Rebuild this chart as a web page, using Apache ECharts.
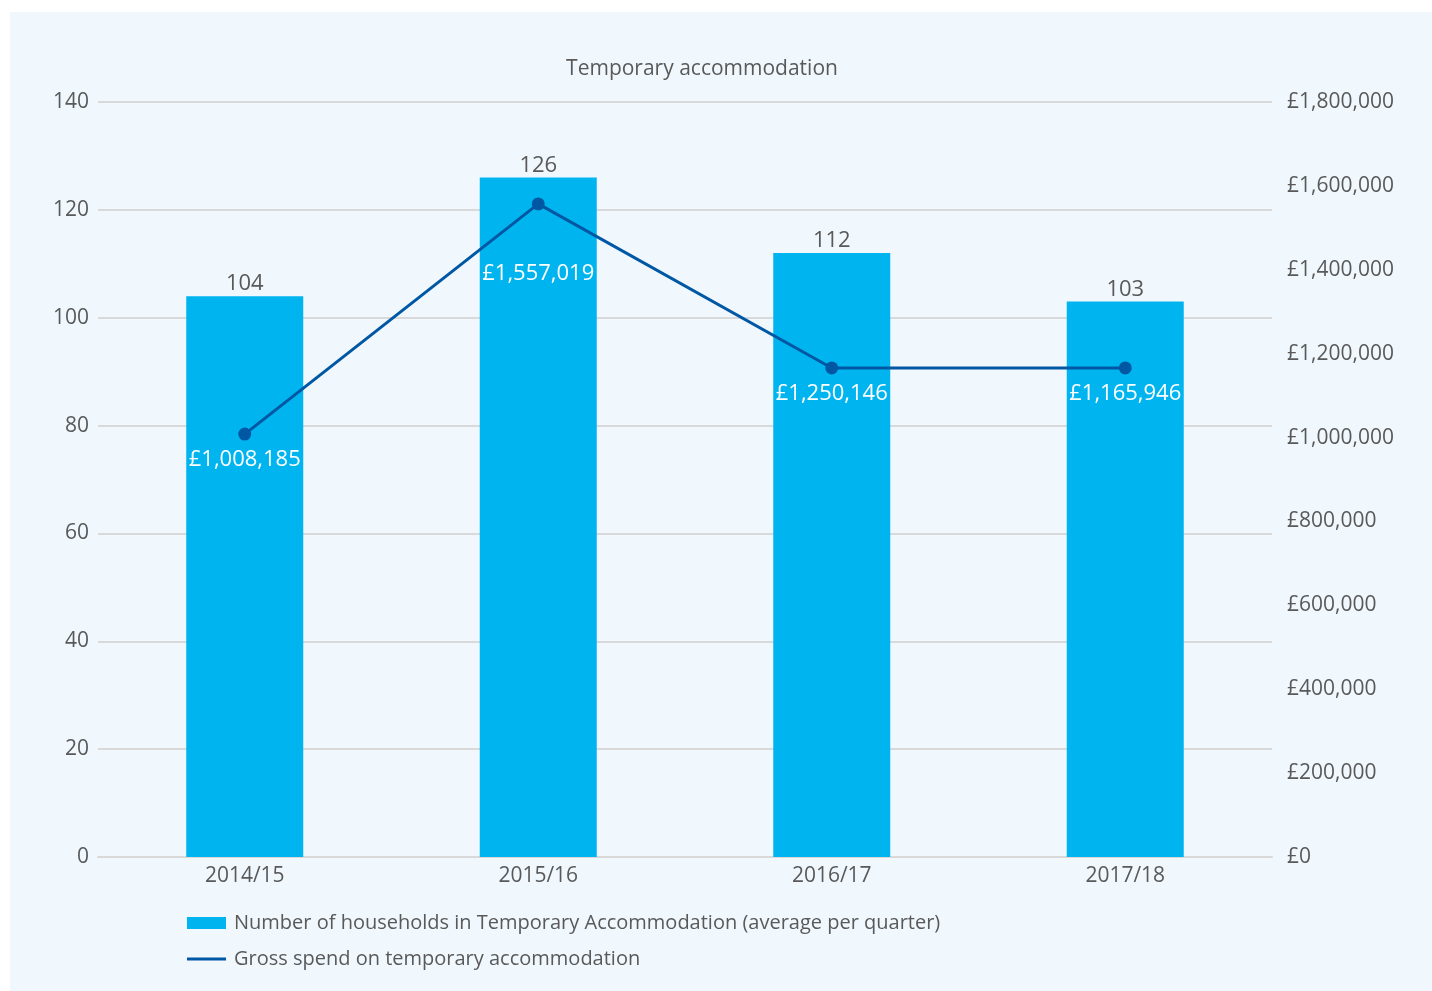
<!DOCTYPE html>
<html>
<head>
<meta charset="utf-8">
<script src="https://cdn.jsdelivr.net/npm/echarts@6/dist/echarts.min.js"></script>
<style>
  html, body { margin: 0; padding: 0; background: #ffffff; }
  #c { position: absolute; left: 10px; top: 12px; width: 1422px; height: 979px; background: #f0f8fe; }
</style>
</head>
<body>
<div id="c"></div>
<script>
const categories = ['2014/15', '2015/16', '2016/17', '2017/18'];
const households = [104, 126, 112, 103];
// plotted positions of the line
const spendPlotted = [1008185, 1557019, 1165946, 1165946];
const spendLabels = ['£1,008,185', '£1,557,019', '£1,250,146', '£1,165,946'];
const leftTicks = [0, 20, 40, 60, 80, 100, 120, 140];
const rightTicks = [0, 200000, 400000, 600000, 800000, 1000000, 1200000, 1400000, 1600000, 1800000];

const FONT = 'Open Sans';
const TXT = '#595959';

const lineData = spendPlotted.map((v, i) => i === 1 ? { value: v, label: { distance: 52 } } : v);

const chart = echarts.init(document.getElementById('c'), null, { renderer: 'canvas' });
chart.setOption({
  backgroundColor: 'transparent',
  textStyle: { fontFamily: FONT },
  title: {
    text: 'Temporary accommodation',
    left: 687, top: 42, textAlign: 'center',
    textStyle: { fontFamily: FONT, fontSize: 21, fontWeight: 'normal', color: TXT }
  },
  grid: { left: 88, right: 160, top: 90, bottom: 134, containLabel: false },
  legend: {
    orient: 'vertical', left: 172, top: 896, itemGap: 16,
    itemWidth: 39, itemHeight: 12,
    textStyle: { fontFamily: FONT, fontSize: 20, color: TXT, padding: [0, 0, 0, 3] },
    data: [
      { name: 'Number of households in Temporary Accommodation (average per quarter)', icon: 'rect' },
      { name: 'Gross spend on temporary accommodation', icon: 'path://M0,0 H39 V3 H0 Z' }
    ]
  },
  xAxis: {
    type: 'category', data: categories,
    axisLine: { lineStyle: { color: '#d9d9d9', width: 2 } },
    axisTick: { show: false },
    axisLabel: { fontFamily: FONT, fontSize: 21, color: TXT, margin: 9 }
  },
  yAxis: [
    {
      type: 'value', min: leftTicks[0], max: leftTicks[leftTicks.length - 1], interval: 20,
      axisLine: { show: false }, axisTick: { show: false },
      splitLine: { lineStyle: { color: '#d9d9d9', width: 2 } },
      axisLabel: { fontFamily: FONT, fontSize: 21, color: TXT, margin: 9 }
    },
    {
      type: 'value', min: rightTicks[0], max: rightTicks[rightTicks.length - 1], interval: 200000,
      axisLine: { show: false }, axisTick: { show: false }, splitLine: { show: false },
      axisLabel: {
        fontFamily: FONT, fontSize: 21, color: TXT, margin: 15,
        formatter: v => '£' + v.toLocaleString('en-GB')
      }
    }
  ],
  series: [
    {
      name: 'Number of households in Temporary Accommodation (average per quarter)',
      type: 'bar', data: households, barWidth: 117,
      itemStyle: { color: '#00b5ef' },
      label: { show: true, position: 'top', distance: 1, fontFamily: FONT, fontSize: 22, color: TXT }
    },
    {
      name: 'Gross spend on temporary accommodation',
      type: 'line', yAxisIndex: 1, data: lineData,
      symbol: 'circle', symbolSize: 13,
      lineStyle: { color: '#0057a3', width: 3 },
      itemStyle: { color: '#0057a3' },
      label: {
        show: true, position: 'bottom', distance: 8,
        fontFamily: FONT, fontSize: 22, color: '#ffffff',
        formatter: p => spendLabels[p.dataIndex]
      },
      z: 5
    }
  ]
});
</script>
</body>
</html>
